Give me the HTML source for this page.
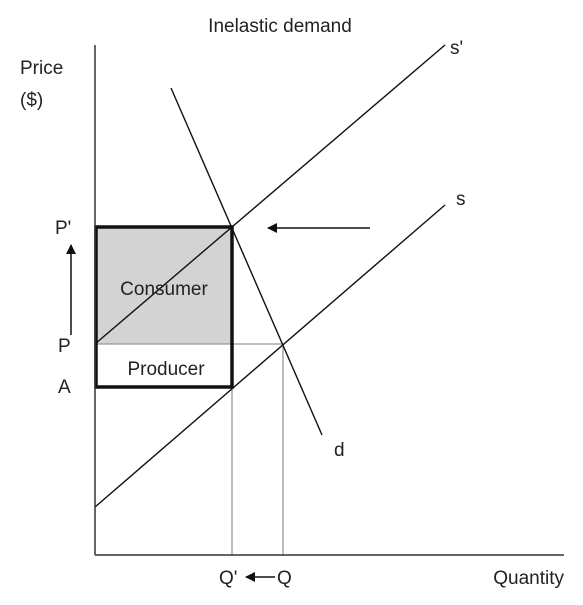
<!DOCTYPE html>
<html><head><meta charset="utf-8"><style>
body{margin:0;background:#fff;}
svg text{font-family:"Liberation Sans","DejaVu Sans",sans-serif;fill:#222;}
</style></head><body>
<svg id="chart" width="583" height="600" viewBox="0 0 583 600">
<defs><marker id="ah" markerWidth="10" markerHeight="10" refX="9" refY="5" orient="auto" markerUnits="userSpaceOnUse"><path d="M0,0 L10,5 L0,10 z" fill="#111"/></marker></defs>
<text x="280" y="32" text-anchor="middle" font-size="19">Inelastic demand</text>
<text x="20" y="74" font-size="19">Price</text>
<text x="20" y="106" font-size="19">($)</text>
<rect x="96" y="227" width="136" height="117" fill="#d3d3d3"/>
<line x1="96" y1="344" x2="283" y2="344" stroke="#999" stroke-width="1.3"/>
<line x1="232" y1="387" x2="232" y2="555" stroke="#999" stroke-width="1.3"/>
<line x1="283" y1="344" x2="283" y2="555" stroke="#999" stroke-width="1.3"/>
<g id="lines"></g>
<rect x="96" y="227" width="136" height="160" fill="none" stroke="#111" stroke-width="3.5"/>
<line x1="95" y1="45" x2="95" y2="555" stroke="#333" stroke-width="1.5"/>
<line x1="95" y1="555" x2="564" y2="555" stroke="#333" stroke-width="1.5"/>
<text x="164" y="295" text-anchor="middle" font-size="19">Consumer</text>
<text x="166" y="375" text-anchor="middle" font-size="19">Producer</text>
<text x="55" y="234" font-size="19">P'</text>
<text x="58" y="352" font-size="19">P</text>
<text x="58" y="393" font-size="19">A</text>
<line x1="71" y1="335" x2="71" y2="245" stroke="#111" stroke-width="1.5" marker-end="url(#ah)"/>
<line x1="370" y1="228" x2="268" y2="228" stroke="#111" stroke-width="1.5" marker-end="url(#ah)"/>
<line x1="275" y1="577" x2="246" y2="577" stroke="#111" stroke-width="1.5" marker-end="url(#ah)"/>
<text x="219" y="584" font-size="19">Q'</text>
<text x="277" y="584" font-size="19">Q</text>
<text x="564" y="584" text-anchor="end" font-size="19">Quantity</text>
<text x="450" y="54" font-size="19">s'</text>
<text x="456" y="205" font-size="19">s</text>
<text x="334" y="456" font-size="19">d</text>
</svg>
<script>
// line endpoints in data units (quantity, price)
const lineNames = ["supply-s-prime","supply-s","demand-d"];
const lineX1 = [0, 0, 76];
const lineY1 = [211, 48, 467];
const lineX2 = [350, 350, 227];
const lineY2 = [510, 350, 120];
const xScale = q => 95 + q;
const yScale = p => 555 - p;
const g = document.getElementById('lines');
for (let i = 0; i < lineNames.length; i++) {
  const l = document.createElementNS('http://www.w3.org/2000/svg','line');
  l.setAttribute('x1', xScale(lineX1[i])); l.setAttribute('y1', yScale(lineY1[i]));
  l.setAttribute('x2', xScale(lineX2[i])); l.setAttribute('y2', yScale(lineY2[i]));
  l.setAttribute('stroke', '#111'); l.setAttribute('stroke-width', '1.4');
  
  
  g.appendChild(l);
}
</script>
</body></html>
